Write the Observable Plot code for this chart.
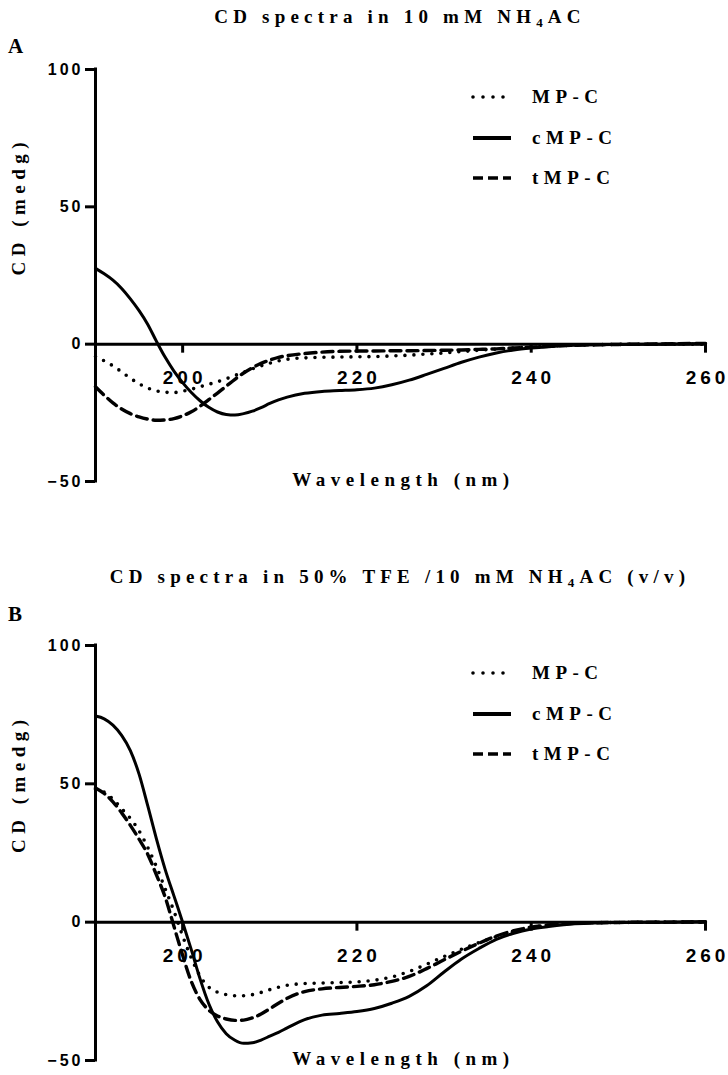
<!DOCTYPE html>
<html>
<head>
<meta charset="utf-8">
<script src="https://cdn.jsdelivr.net/npm/d3@7"></script>
<script src="https://cdn.jsdelivr.net/npm/@observablehq/plot@0.6"></script>
<style>
  body { margin: 0; background: #fff; }
  #wrap { position: relative; width: 728px; height: 1075px; overflow: hidden; background: #fff; color: #000; }
  #wrap svg { position: absolute; left: 0; }
  .serif { font-family: "Liberation Serif", "Times New Roman", serif; font-weight: bold; white-space: nowrap; position: absolute; color: #000; }
  .title { font-size: 19px; letter-spacing: 5.2px; line-height: 24px; transform: translateX(-50%); }
  .title sub { font-size: 13px; vertical-align: -4px; line-height: 0; }
  .panel { font-size: 21px; line-height: 24px; }
  .leg { font-size: 19px; letter-spacing: 5.5px; line-height: 24px; }
  .legline { position: absolute; }
  svg g[aria-label="y-axis tick label"] { font-family: "Liberation Sans", Arial, sans-serif; font-size: 16px; font-weight: bold; letter-spacing: 3px; }
  svg g[aria-description="xtick"] { font-family: "Liberation Sans", Arial, sans-serif; font-size: 19px; font-weight: bold; letter-spacing: 4px; }
  svg g[aria-description="xlabel"], svg g[aria-description="ylabel"] { font-family: "Liberation Serif", "Times New Roman", serif; font-size: 19px; font-weight: bold; letter-spacing: 5.5px; }
</style>
</head>
<body>
<div id="wrap"></div>
<script>
// ---- data ----
const wavelength = [190,191,192,193,194,195,196,197,198,199,200,201,202,203,204,205,206,207,208,209,210,211,212,214,216,218,220,222,224,226,228,230,232,234,236,238,240,242,245,250,255,260];

// Panel A: 10 mM NH4AC
const A_MPC  = [-4.5,-6.1,-7.9,-10.1,-12.4,-14.4,-16.0,-17.0,-17.5,-17.6,-17.1,-16.4,-15.5,-14.6,-13.7,-12.6,-11.4,-10.2,-9.0,-7.9,-6.9,-6.1,-5.5,-5.0,-4.8,-4.7,-4.6,-4.5,-4.3,-4.0,-3.6,-3.2,-2.7,-2.2,-1.8,-1.4,-1.0,-0.7,-0.4,-0.1,0,0];
const A_cMPC = [27.6,25.6,23.3,20.3,16.5,12.2,7.2,1.0,-4.8,-9.8,-14.0,-17.6,-20.6,-23.0,-24.7,-25.6,-25.8,-25.3,-24.4,-23.1,-21.6,-20.3,-19.3,-17.9,-17.2,-16.9,-16.6,-16.0,-14.8,-13.1,-11.0,-8.8,-6.6,-4.7,-3.2,-2.1,-1.4,-0.9,-0.4,-0.1,0,0.2];
const A_tMPC = [-15.5,-18.6,-21.4,-23.6,-25.3,-26.5,-27.3,-27.7,-27.6,-27.1,-26.1,-24.6,-22.6,-20.2,-17.8,-15.3,-12.8,-10.5,-8.6,-7.0,-5.8,-4.8,-4.2,-3.4,-2.9,-2.6,-2.5,-2.5,-2.4,-2.4,-2.3,-2.2,-2.1,-1.9,-1.7,-1.4,-1.1,-0.8,-0.4,-0.1,0.1,0.3];

// Panel B: 50% TFE / 10 mM NH4AC
const B_MPC  = [48,47,44.5,41,37.5,33,27,20,12,4,-5,-13,-19.5,-23.5,-25.3,-26.2,-26.6,-26.6,-26.2,-25.4,-24.4,-23.5,-22.8,-22.2,-22.0,-21.8,-21.6,-21.0,-19.8,-17.8,-15.2,-12.4,-9.8,-7.4,-5.2,-3.3,-1.9,-1.1,-0.4,-0.1,0,0];
const B_cMPC = [74.5,73.5,71.2,67.5,62,53.5,42,30,19,9.5,0,-10,-20.5,-29.5,-36,-40.3,-42.7,-43.8,-43.6,-42.6,-41.2,-39.8,-38.2,-35.2,-33.6,-33.0,-32.3,-31.2,-29.3,-26.8,-23.0,-18.0,-13.3,-9.5,-6.2,-4.0,-2.5,-1.6,-0.6,-0.1,0,0.2];
const B_tMPC = [48.5,46.5,43.5,39.5,35,30,24.5,17,9,-1.5,-12,-21.5,-28,-31.8,-33.9,-35.0,-35.5,-35.4,-34.6,-33.2,-31.3,-29.3,-27.5,-25.1,-24.1,-23.6,-23.2,-22.6,-21.4,-19.6,-16.8,-13.6,-10.5,-7.6,-5.0,-3.1,-1.8,-1.0,-0.4,-0.1,0,0.1];

const seriesNames = ["MP-C", "cMP-C", "tMP-C"];
const xTicks = [200, 220, 240, 260];
const yTicks = [-50, 0, 50, 100];
const xLabel = "Wavelength (nm)";
const yLabel = "CD (medg)";
const titlesHTML = ["CD spectra in 10 mM NH<sub>4</sub>AC", "CD spectra in 50% TFE /10 mM NH<sub>4</sub>AC (v/v)"];
const panelLetters = ["A", "B"];

// ---- styles ----
const lineStyle = {
  "MP-C":  {strokeDasharray: "0,9", strokeLinecap: "round", strokeWidth: 3.6},
  "cMP-C": {strokeWidth: 3},
  "tMP-C": {strokeDasharray: "11,6", strokeWidth: 3.4}
};
const legendLine = {
  "MP-C":  {x2: 34, dash: "0,10", cap: "round", width: 3.6},
  "cMP-C": {x2: 41, dash: null, cap: "butt", width: 3.8},
  "tMP-C": {x2: 41, dash: "10,5", cap: "butt", width: 3.6}
};

const panels = [
  {values: [A_MPC, A_cMPC, A_tMPC], top: 0, height: 537, marginTop: 69, marginBottom: 56, titleY: 17, letterY: 46},
  {values: [B_MPC, B_cMPC, B_tMPC], top: 537, height: 538, marginTop: 108, marginBottom: 15, titleY: 577, letterY: 614}
];

const wrap = document.getElementById("wrap");

panels.forEach((p, pi) => {
  const lines = seriesNames.map((name, si) =>
    Plot.line(wavelength.map((w, i) => ({wl: w, cd: p.values[si][i]})), {
      x: "wl", y: "cd", curve: "monotone-x", stroke: "black", ...lineStyle[name]
    })
  );
  const chart = Plot.plot({
    width: 728,
    height: p.height,
    marginLeft: 95,
    marginRight: 23,
    marginTop: p.marginTop,
    marginBottom: p.marginBottom,
    style: {background: "transparent", color: "black", overflow: "visible"},
    x: {domain: [190, 260], axis: null},
    y: {domain: [-50, 100]},
    marks: [
      Plot.ruleY([0], {stroke: "black", strokeWidth: 3}),
      Plot.ruleX([190], {y1: () => -50, y2: () => 100, stroke: "black", strokeWidth: 3, strokeLinecap: "square"}),
      Plot.ruleX(xTicks, {x: d => d, y1: () => 0, y2: () => 0, insetBottom: -9, stroke: "black", strokeWidth: 3}),
      Plot.axisY(yTicks, {anchor: "left", tickSize: 10, tickPadding: 2, strokeWidth: 3, label: null, fontSize: 16, fontWeight: "bold"}),
      Plot.text(xTicks, {x: d => d, y: () => 0, text: d => String(d), dy: 34, dx: 2, lineAnchor: "middle", fill: "black", ariaDescription: "xtick"}),
      Plot.text([xLabel], {frameAnchor: "bottom", text: d => d, dy: -2, dx: 3, lineAnchor: "middle", fill: "black", ariaDescription: "xlabel"}),
      Plot.text([yLabel], {frameAnchor: "left", text: d => d, dx: -77, rotate: -90, lineAnchor: "middle", fill: "black", ariaDescription: "ylabel"}),
      ...lines
    ]
  });
  chart.style.top = p.top + "px";
  wrap.appendChild(chart);

  // title
  const t = document.createElement("div");
  t.className = "serif title";
  t.innerHTML = titlesHTML[pi];
  t.style.left = "400px";
  t.style.top = (p.titleY - 12) + "px";
  wrap.appendChild(t);

  // panel letter
  const l = document.createElement("div");
  l.className = "serif panel";
  l.textContent = panelLetters[pi];
  l.style.left = "8px";
  l.style.top = (p.letterY - 12) + "px";
  wrap.appendChild(l);

  // legend
  const plotTop = p.top + p.marginTop;
  const rowOffsets = [28, 69, 109];
  seriesNames.forEach((name, si) => {
    const cy = plotTop + rowOffsets[si];
    const ls = legendLine[name];
    const svg = d3.create("svg").attr("class", "legline").attr("width", 44).attr("height", 12)
      .style("left", "470px").style("top", (cy - 6) + "px").style("position", "absolute");
    svg.append("line").attr("x1", 3).attr("x2", ls.x2).attr("y1", 6).attr("y2", 6)
      .attr("stroke", "black").attr("stroke-width", ls.width)
      .attr("stroke-dasharray", ls.dash)
      .attr("stroke-linecap", ls.cap);
    wrap.appendChild(svg.node());
    const tx = document.createElement("div");
    tx.className = "serif leg";
    tx.textContent = name;
    tx.style.left = "532px";
    tx.style.top = (cy - 12) + "px";
    wrap.appendChild(tx);
  });
});
</script>
</body>
</html>
